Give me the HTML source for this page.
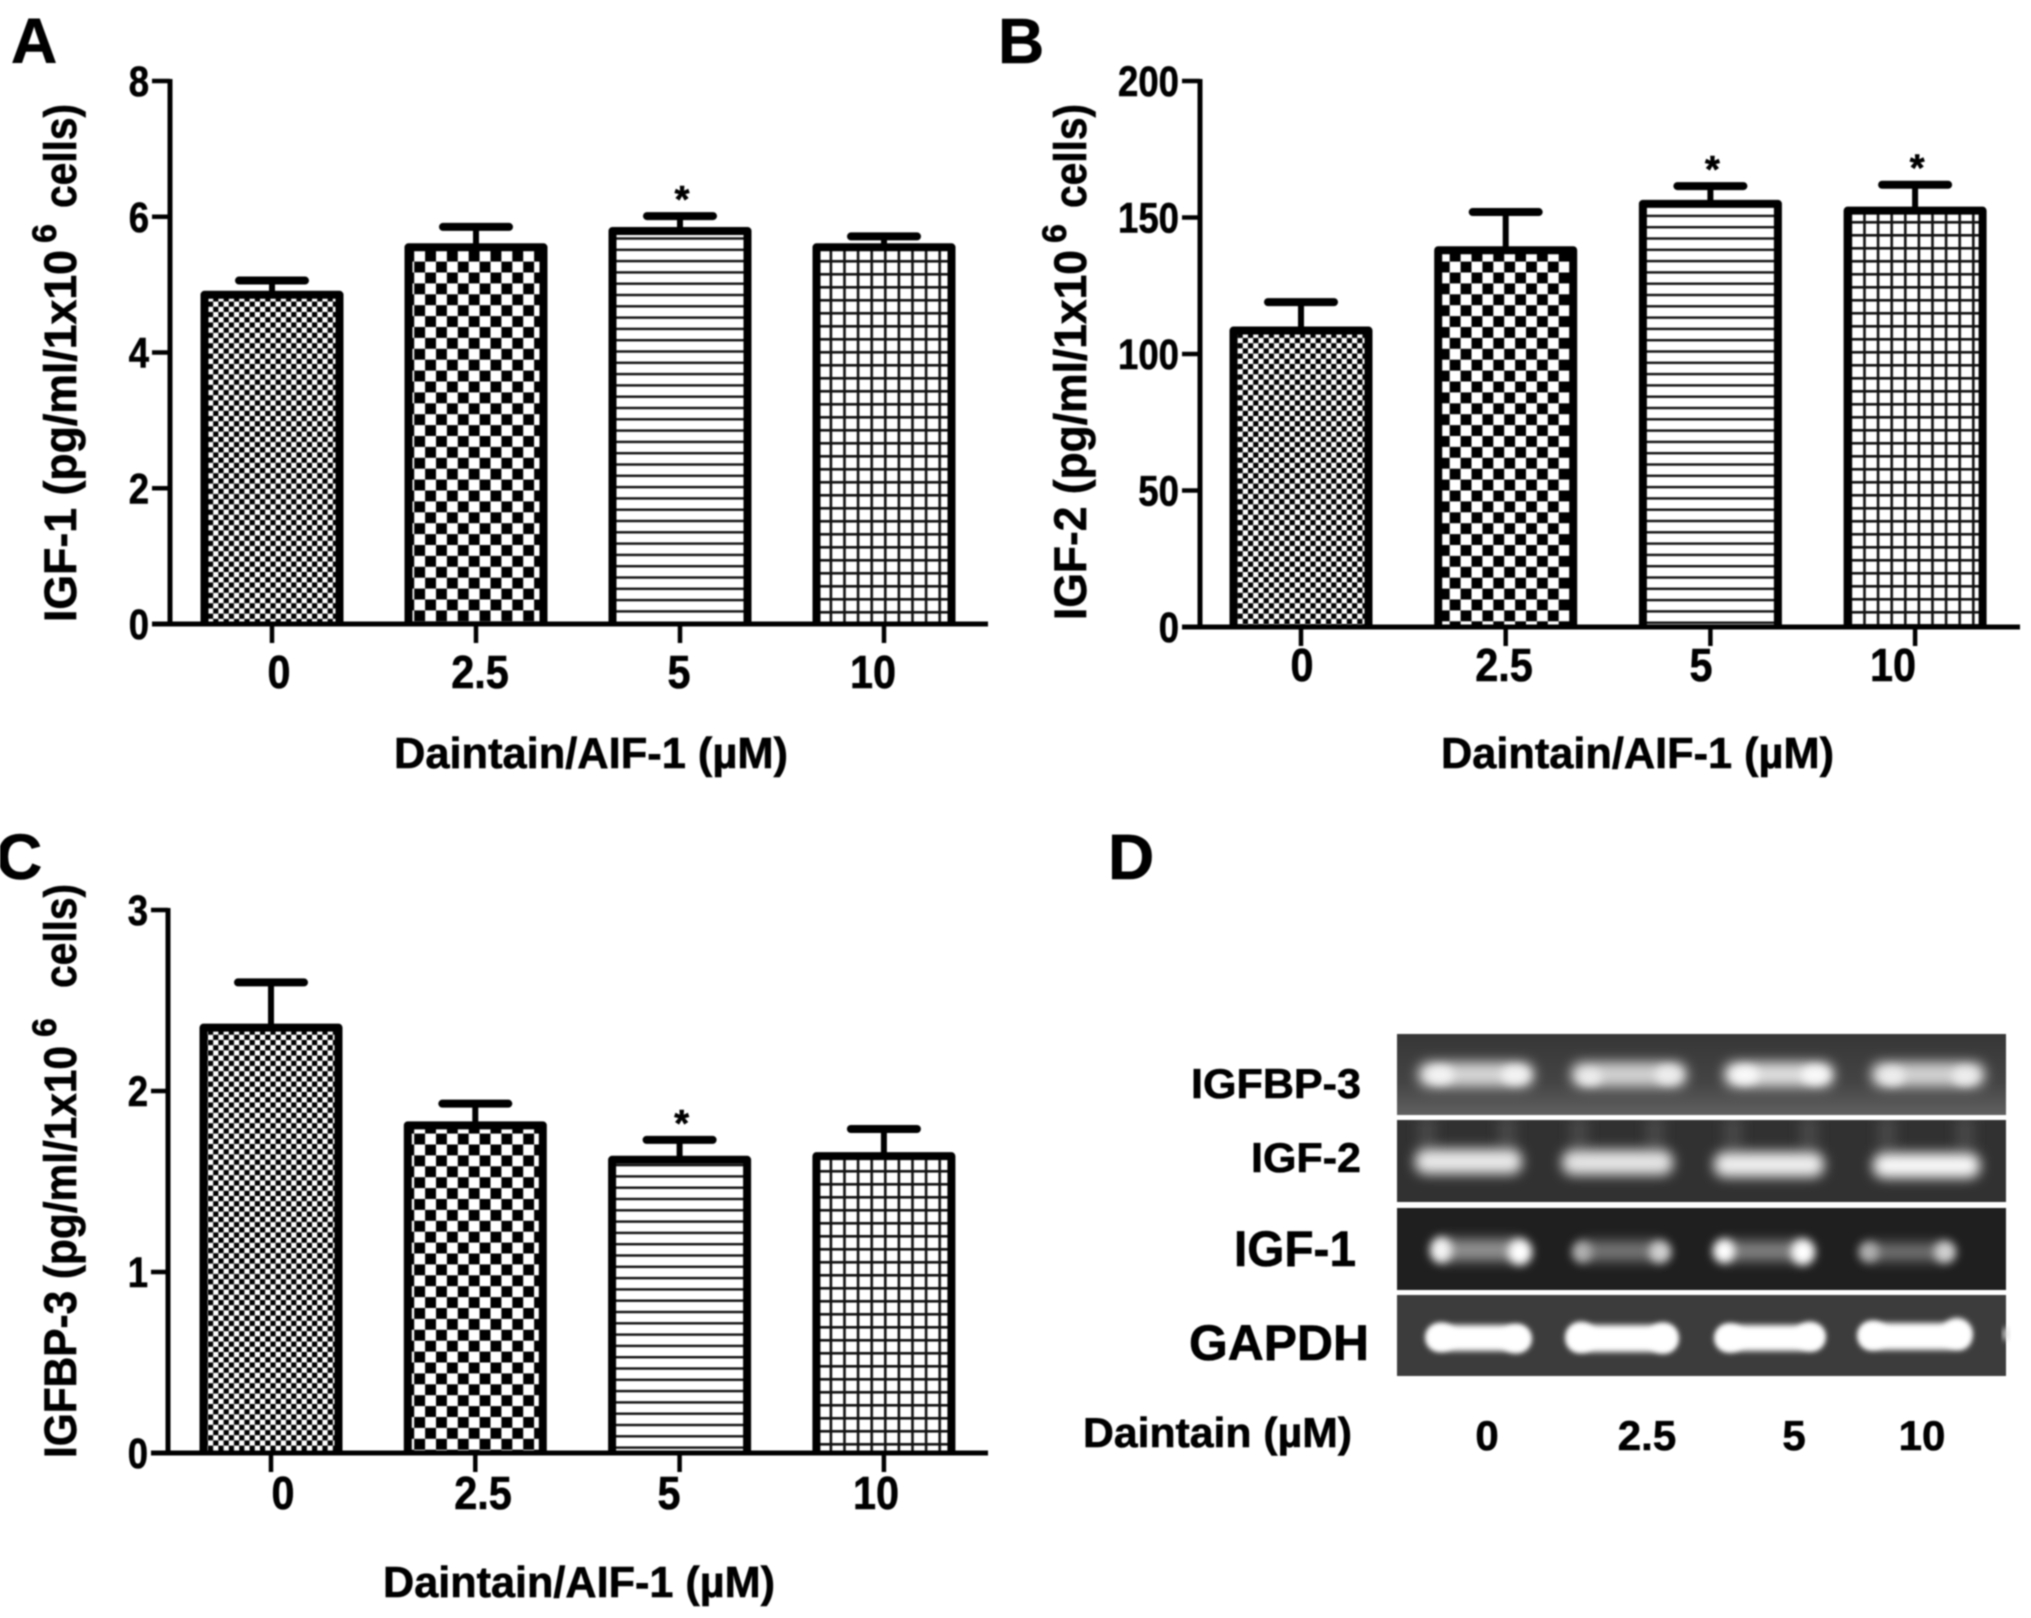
<!DOCTYPE html>
<html lang="en">
<head>
<meta charset="utf-8">
<title>Daintain/AIF-1 effects on IGF-1, IGF-2 and IGFBP-3</title>
<style>
html,body{margin:0;padding:0;background:#fff;}
svg{display:block;filter:blur(0.7px);}
text{font-family:"Liberation Sans",sans-serif;font-weight:bold;fill:#000;stroke:#000;stroke-width:0.6px;}
</style>
</head>
<body>
<svg id="figure" xmlns="http://www.w3.org/2000/svg" width="2031" height="1618" viewBox="0 0 2031 1618">
<defs>
  <pattern id="p-fine" patternUnits="userSpaceOnUse" width="10.4" height="10.4">
    <rect width="10.4" height="10.4" fill="#fff"/>
    <rect x="0" y="0" width="5.2" height="5.2" fill="#000"/>
    <rect x="5.2" y="5.2" width="5.2" height="5.2" fill="#000"/>
  </pattern>
  <pattern id="p-coarse" patternUnits="userSpaceOnUse" width="21.8" height="21.8">
    <rect width="21.8" height="21.8" fill="#fff"/>
    <rect x="0" y="0" width="10.9" height="10.9" fill="#000"/>
    <rect x="10.9" y="10.9" width="10.9" height="10.9" fill="#000"/>
  </pattern>
  <pattern id="p-lines" patternUnits="userSpaceOnUse" width="11.3" height="11.3">
    <rect width="11.3" height="11.3" fill="#fff"/>
    <rect x="0" y="0" width="11.3" height="2.4" fill="#111"/>
  </pattern>
  <pattern id="p-grid" patternUnits="userSpaceOnUse" width="13.6" height="13">
    <rect width="13.6" height="13" fill="#fff"/>
    <rect x="0" y="0" width="13.6" height="2.6" fill="#111"/>
    <rect x="0" y="0" width="2.6" height="13" fill="#111"/>
  </pattern>
  <filter id="b6" x="-30%" y="-120%" width="160%" height="340%"><feGaussianBlur stdDeviation="6"/></filter>
  <filter id="b4" x="-100%" y="-100%" width="300%" height="300%"><feGaussianBlur stdDeviation="4.5"/></filter>
  <filter id="b3" x="-30%" y="-100%" width="160%" height="300%"><feGaussianBlur stdDeviation="3"/></filter>
  <filter id="b9" x="-200%" y="-100%" width="500%" height="300%"><feGaussianBlur stdDeviation="7"/></filter>
  <linearGradient id="g-top" x1="0" y1="0" x2="0" y2="1">
    <stop offset="0" stop-color="#363636"/><stop offset="0.6" stop-color="#444"/><stop offset="1" stop-color="#606060"/>
  </linearGradient>
  <clipPath id="clip-igf2"><rect x="1397" y="1120" width="609" height="82"/></clipPath>
</defs>

<g id="panels"></g>

<g>
  <text x="11" y="63" style="font-size:64px">A</text>
  <text x="998" y="63" style="font-size:64px">B</text>
  <text x="-4" y="879" style="font-size:64px">C</text>
  <text x="1108" y="879" style="font-size:64px">D</text>
</g>

<g>
  <g>
    <rect x="1397" y="1034" width="609" height="81" fill="url(#g-top)"/>
    <rect x="1418" y="1062" width="116" height="25" rx="11" fill="#d4d4d4" filter="url(#b6)"/>
    <rect x="1571" y="1062" width="116" height="25" rx="11" fill="#d0d0d0" filter="url(#b6)"/>
    <rect x="1724" y="1062" width="110" height="25" rx="11" fill="#dcdcdc" filter="url(#b6)"/>
    <rect x="1871" y="1062" width="114" height="25" rx="11" fill="#d0d0d0" filter="url(#b6)"/>
    <ellipse cx="1440" cy="1075" rx="14" ry="9" fill="#f4f4f4" filter="url(#b4)"/>
    <ellipse cx="1515" cy="1075" rx="14" ry="9" fill="#f4f4f4" filter="url(#b4)"/>
    <ellipse cx="1590" cy="1077" rx="12" ry="8" fill="#eee" filter="url(#b4)"/>
    <ellipse cx="1668" cy="1075" rx="13" ry="9" fill="#eee" filter="url(#b4)"/>
    <ellipse cx="1745" cy="1075" rx="14" ry="9" fill="#fafafa" filter="url(#b4)"/>
    <ellipse cx="1815" cy="1075" rx="14" ry="9" fill="#fafafa" filter="url(#b4)"/>
    <ellipse cx="1892" cy="1076" rx="13" ry="9" fill="#eee" filter="url(#b4)"/>
    <ellipse cx="1965" cy="1076" rx="13" ry="9" fill="#eee" filter="url(#b4)"/>
  </g>
  <g>
    <rect x="1397" y="1120" width="609" height="82" fill="#313131"/>
    <g clip-path="url(#clip-igf2)">
      <rect x="1420" y="1116" width="14" height="36" fill="#4e4e4e" filter="url(#b9)"/>
      <rect x="1500" y="1116" width="14" height="36" fill="#4e4e4e" filter="url(#b9)"/>
      <rect x="1572" y="1116" width="14" height="36" fill="#4e4e4e" filter="url(#b9)"/>
      <rect x="1648" y="1116" width="14" height="36" fill="#4e4e4e" filter="url(#b9)"/>
      <rect x="1726" y="1116" width="14" height="36" fill="#4e4e4e" filter="url(#b9)"/>
      <rect x="1802" y="1116" width="14" height="36" fill="#4e4e4e" filter="url(#b9)"/>
      <rect x="1880" y="1116" width="14" height="36" fill="#4e4e4e" filter="url(#b9)"/>
      <rect x="1958" y="1116" width="14" height="36" fill="#4e4e4e" filter="url(#b9)"/>
    </g>
    <rect x="1415" y="1149" width="107" height="25" rx="11" fill="#e8e8e8" filter="url(#b6)"/>
    <rect x="1562" y="1150" width="111" height="25" rx="11" fill="#e4e4e4" filter="url(#b6)"/>
    <rect x="1714" y="1152" width="110" height="25" rx="11" fill="#eee" filter="url(#b6)"/>
    <rect x="1873" y="1153" width="107" height="25" rx="11" fill="#f8f8f8" filter="url(#b6)"/>
  </g>
  <g>
    <rect x="1397" y="1208" width="609" height="82" fill="#1f1f1f"/>
    <rect x="1438" y="1239" width="86" height="22" rx="8" fill="#909090" filter="url(#b6)"/>
    <rect x="1580" y="1241" width="86" height="20" rx="8" fill="#747474" filter="url(#b6)"/>
    <rect x="1720" y="1241" width="88" height="20" rx="8" fill="#808080" filter="url(#b6)"/>
    <rect x="1863" y="1243" width="86" height="18" rx="7" fill="#707070" filter="url(#b6)"/>
    <ellipse cx="1441" cy="1250" rx="11" ry="13" fill="#f4f4f4" filter="url(#b4)"/>
    <ellipse cx="1520" cy="1252" rx="12" ry="13" fill="#fff" filter="url(#b4)"/>
    <ellipse cx="1582" cy="1252" rx="10" ry="11" fill="#b0b0b0" filter="url(#b4)"/>
    <ellipse cx="1660" cy="1252" rx="11" ry="11" fill="#d0d0d0" filter="url(#b4)"/>
    <ellipse cx="1724" cy="1251" rx="11" ry="12" fill="#fff" filter="url(#b4)"/>
    <ellipse cx="1803" cy="1252" rx="12" ry="13" fill="#fff" filter="url(#b4)"/>
    <ellipse cx="1869" cy="1252" rx="10" ry="10" fill="#b0b0b0" filter="url(#b4)"/>
    <ellipse cx="1945" cy="1252" rx="11" ry="11" fill="#d0d0d0" filter="url(#b4)"/>
  </g>
  <g>
    <rect x="1397" y="1295" width="609" height="81" fill="#3c3c3c"/>
    <rect x="1427" y="1325" width="103" height="26" rx="12" fill="#fff" filter="url(#b3)"/>
    <rect x="1567" y="1325" width="110" height="27" rx="12" fill="#fff" filter="url(#b3)"/>
    <rect x="1716" y="1325" width="108" height="26" rx="12" fill="#fff" filter="url(#b3)"/>
    <rect x="1859" y="1323" width="112" height="27" rx="12" fill="#fff" filter="url(#b3)"/>
    <ellipse cx="1441" cy="1337" rx="15" ry="14" fill="#fff" filter="url(#b3)"/>
    <ellipse cx="1516" cy="1339" rx="15" ry="14" fill="#fff" filter="url(#b3)"/>
    <ellipse cx="1581" cy="1337" rx="15" ry="15" fill="#fff" filter="url(#b3)"/>
    <ellipse cx="1663" cy="1338" rx="15" ry="15" fill="#fff" filter="url(#b3)"/>
    <ellipse cx="1730" cy="1338" rx="15" ry="14" fill="#fff" filter="url(#b3)"/>
    <ellipse cx="1810" cy="1336" rx="15" ry="14" fill="#fff" filter="url(#b3)"/>
    <ellipse cx="1873" cy="1335" rx="15" ry="14" fill="#fff" filter="url(#b3)"/>
    <ellipse cx="1957" cy="1333" rx="15" ry="15" fill="#fff" filter="url(#b3)"/>
    <ellipse cx="2006" cy="1334" rx="3" ry="7" fill="#ddd" filter="url(#b3)"/>
  </g>
  <text x="1191" y="1098" textLength="170" lengthAdjust="spacingAndGlyphs" style="font-size:42px">IGFBP-3</text>
  <text x="1251" y="1172" textLength="110" lengthAdjust="spacingAndGlyphs" style="font-size:42px">IGF-2</text>
  <text x="1234" y="1266" textLength="122" lengthAdjust="spacingAndGlyphs" style="font-size:50px">IGF-1</text>
  <text x="1189" y="1360" textLength="180" lengthAdjust="spacingAndGlyphs" style="font-size:50px">GAPDH</text>
  <text x="1083" y="1447" textLength="269" lengthAdjust="spacingAndGlyphs" style="font-size:42px">Daintain (µM)</text>
  <text x="1487" y="1450" text-anchor="middle" style="font-size:42px">0</text>
  <text x="1647" y="1450" text-anchor="middle" style="font-size:42px">2.5</text>
  <text x="1794" y="1450" text-anchor="middle" style="font-size:42px">5</text>
  <text x="1922" y="1450" text-anchor="middle" style="font-size:42px">10</text>
</g>
</svg>

<script>
const categories = ['0', '2.5', '5', '10'];
const fills = ['url(#p-fine)', 'url(#p-coarse)', 'url(#p-lines)', 'url(#p-grid)'];

const igf1Means = [4.85, 5.55, 5.79, 5.55];
const igf1ErrorTops = [5.06, 5.85, 6.01, 5.71];
const igf1Significant = [false, false, true, false];
const igf1Ticks = [0, 2, 4, 6, 8];

const igf2Means = [108.6, 138, 155, 152.5];
const igf2ErrorTops = [119, 152, 161.5, 162];
const igf2Significant = [false, false, true, true];
const igf2Ticks = [0, 50, 100, 150, 200];

const igfbp3Means = [2.35, 1.81, 1.62, 1.64];
const igfbp3ErrorTops = [2.6, 1.93, 1.73, 1.79];
const igfbp3Significant = [false, false, true, false];
const igfbp3Ticks = [0, 1, 2, 3];

const NS = 'http://www.w3.org/2000/svg';
const root = document.getElementById('panels');

function make(parent, tag, attrs) {
  const el = document.createElementNS(NS, tag);
  for (const k in attrs) el.setAttribute(k, attrs[k]);
  parent.appendChild(el);
  return el;
}

function squeeze(t, factor) {
  const len = t.getComputedTextLength();
  t.setAttribute('textLength', (len * factor).toFixed(1));
  t.setAttribute('lengthAdjust', 'spacingAndGlyphs');
}

function drawPanel(p) {
  const g = make(root, 'g', {});
  
  

  const yScale = function (v) { return p.y0 - v / p.yMax * (p.y0 - p.y1); };
  const xScale = function (i) { return p.barStart + i * p.barStep; };
  const labelX = function (i) { return p.labelStart + i * p.labelStep + p.labelNudge[i]; };

  p.means.forEach(function (m, i) {
    const cx = xScale(i);
    const top = yScale(m);
    const capY = yScale(p.errorTops[i]);
    const left = cx - 67.5;
    const right = cx + 67.5;

    const stem = make(g, 'line', { x1: cx, x2: cx, y1: capY, y2: top, stroke: '#000', 'stroke-width': 6 });
    
    

    const cap = make(g, 'line', { x1: cx - 33, x2: cx + 33, y1: capY, y2: capY, stroke: '#000', 'stroke-width': 8, 'stroke-linecap': 'round' });
    
    

    const bar = make(g, 'path', { d: 'M' + left + ' ' + p.y0 + 'V' + top + 'H' + right + 'V' + p.y0, fill: fills[i], stroke: '#000', 'stroke-width': 8, 'stroke-linejoin': 'round' });
    
    

    if (p.significant[i]) {
      const star = make(g, 'text', { x: cx + 2, y: capY - 4, 'text-anchor': 'middle', style: 'font-size:38px' });
      star.textContent = '*';
      
      
    }

    const tick = make(g, 'line', { x1: cx, x2: cx, y1: p.y0, y2: p.y0 + 19, stroke: '#000', 'stroke-width': 4.5 });
    
    

    const lab = make(g, 'text', { x: labelX(i), y: p.labelBaseline, 'text-anchor': 'middle', style: 'font-size:46px' });
    lab.textContent = categories[i];
    
    
    squeeze(lab, 0.9);
  });

  const xAxis = make(g, 'line', { x1: p.tickStart, x2: p.xEnd, y1: p.y0, y2: p.y0, stroke: '#000', 'stroke-width': 5 });
  
  

  const yAxis = make(g, 'line', { x1: p.axisX, x2: p.axisX, y1: p.y1 - 2, y2: p.y0, stroke: '#000', 'stroke-width': 5 });
  
  

  p.ticks.forEach(function (v) {
    const y = yScale(v);
    const tick = make(g, 'line', { x1: p.tickStart, x2: p.axisX, y1: y, y2: y, stroke: '#000', 'stroke-width': 4.5 });
    
    

    const lab = make(g, 'text', { x: p.tickStart - 3, y: y + 15, 'text-anchor': 'end', style: 'font-size:43px' });
    lab.textContent = String(v);
    
    
    squeeze(lab, 0.85);
  });

  const xTitle = make(g, 'text', { x: p.xTitleX, y: p.xTitleY, textLength: p.xTitleLen, lengthAdjust: 'spacingAndGlyphs', style: 'font-size:44px' });
  xTitle.textContent = 'Daintain/AIF-1 (µM)';
  
  

  const yMain = make(g, 'text', { x: 0, y: 0, transform: 'translate(' + p.yTitleX + ',' + p.yMainStart + ') rotate(-90)', textLength: p.yMainLen, lengthAdjust: 'spacingAndGlyphs', style: 'font-size:45px' });
  yMain.textContent = p.yLabel + '  (pg/ml/1x10';
  
  

  const ySup = make(g, 'text', { x: 0, y: 0, transform: 'translate(' + (p.yTitleX - 20) + ',' + p.ySixStart + ') rotate(-90)', style: 'font-size:34px' });
  ySup.textContent = '6';
  
  

  const yCells = make(g, 'text', { x: 0, y: 0, transform: 'translate(' + p.yTitleX + ',' + p.yCellsStart + ') rotate(-90)', textLength: 104, lengthAdjust: 'spacingAndGlyphs', style: 'font-size:45px' });
  yCells.textContent = 'cells)';
  
  
}

drawPanel({
  name: 'panel-a-igf1-chart', means: igf1Means, errorTops: igf1ErrorTops, significant: igf1Significant, ticks: igf1Ticks, yMax: 8,
  y0: 624, y1: 81, axisX: 170, tickStart: 152, xEnd: 988,
  barStart: 272, barStep: 204, labelStart: 279, labelStep: 198, labelNudge: [0, 3, 4, 0], labelBaseline: 688,
  xTitleX: 394, xTitleY: 768, xTitleLen: 394,
  yLabel: 'IGF-1', yTitleX: 76, yMainStart: 622, yMainLen: 372, ySixStart: 243, yCellsStart: 208
});

drawPanel({
  name: 'panel-b-igf2-chart', means: igf2Means, errorTops: igf2ErrorTops, significant: igf2Significant, ticks: igf2Ticks, yMax: 200,
  y0: 627, y1: 81, axisX: 1200, tickStart: 1182, xEnd: 2020,
  barStart: 1301, barStep: 204.7, labelStart: 1302, labelStep: 198, labelNudge: [0, 4, 3, -3], labelBaseline: 681,
  xTitleX: 1441, xTitleY: 768, xTitleLen: 393,
  yLabel: 'IGF-2', yTitleX: 1086, yMainStart: 620, yMainLen: 370, ySixStart: 243, yCellsStart: 208
});

drawPanel({
  name: 'panel-c-igfbp3-chart', means: igfbp3Means, errorTops: igfbp3ErrorTops, significant: igfbp3Significant, ticks: igfbp3Ticks, yMax: 3,
  y0: 1453, y1: 910, axisX: 168, tickStart: 151, xEnd: 988,
  barStart: 271, barStep: 204.3, labelStart: 282, labelStep: 198, labelNudge: [1, 3, -9, 0], labelBaseline: 1509,
  xTitleX: 383, xTitleY: 1597, xTitleLen: 392,
  yLabel: 'IGFBP-3', yTitleX: 76, yMainStart: 1458, yMainLen: 412, ySixStart: 1037, yCellsStart: 988
});
</script>
</body>
</html>
